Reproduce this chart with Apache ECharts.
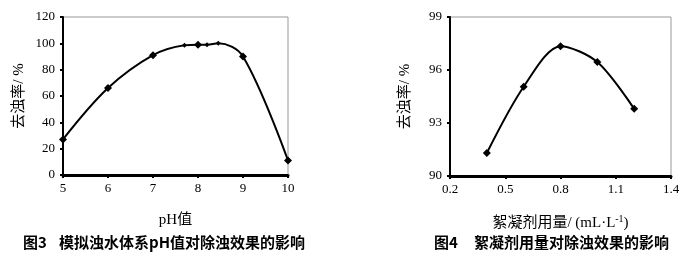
<!DOCTYPE html>
<html><head><meta charset="utf-8">
<script src="https://cdn.jsdelivr.net/npm/echarts@6/dist/echarts.min.js"></script>
<style>html,body{margin:0;padding:0;background:#fff}#c{width:690px;height:264px}</style>
</head><body><div id="c"></div>
<script>
// Figure 3: pH vs removal rate
const phX = [5, 6, 7, 7.7, 8, 8.2, 8.45, 9, 10];
const phY = [27, 66, 91, 98.5, 99, 99, 100, 90, 11];
const phMain = [true, true, true, false, true, false, false, true, true];
const phTicks = [5, 6, 7, 8, 9, 10];
// Figure 4: dosage vs removal rate
const doseX = [0.4, 0.6, 0.8, 1.0, 1.2];
const doseY = [91.3, 95.05, 97.35, 96.45, 93.8];
const doseTicks = [0.2, 0.5, 0.8, 1.1, 1.4];

const serif = '"Liberation Serif","Times New Roman","Noto Sans CJK SC",serif';
const cjk = '"Noto Sans CJK SC",sans-serif';

function xAxisCommon(extra) {
  return Object.assign({
    type: 'value',
    axisLine: {show: true, lineStyle: {color: '#000', width: 3}},
    splitLine: {show: false},
    nameLocation: 'middle',
    nameTextStyle: {color: '#000', fontFamily: serif, fontSize: 15}
  }, extra);
}
function yAxisCommon(extra) {
  return Object.assign({
    type: 'value',
    axisLine: {show: true, lineStyle: {color: '#000', width: 2}},
    axisTick: {show: true, length: 3, lineStyle: {color: '#000', width: 2}},
    axisLabel: {color: '#000', fontFamily: serif, fontSize: 13, margin: 8},
    splitLine: {show: false},
    nameLocation: 'middle',
    nameRotate: 90,
    nameTextStyle: {color: '#000', fontFamily: serif, fontSize: 15}
  }, extra);
}
const capStyle = {fontFamily: cjk, fontSize: 15, fontWeight: 'bold', color: '#1a1a1a'};

const chart = echarts.init(document.getElementById('c'), null, {renderer: 'canvas'});
chart.setOption({
  animation: false,
  backgroundColor: '#fff',
  graphic: [
    {type: 'text', left: 23, top: 235, style: Object.assign({text: '图3'}, capStyle)},
    {type: 'text', left: 59, top: 235, style: Object.assign({text: '模拟浊水体系pH值对除浊效果的影响'}, capStyle)},
    {type: 'text', left: 434, top: 235, style: Object.assign({text: '图4'}, capStyle)},
    {type: 'text', left: 474, top: 235, style: Object.assign({text: '絮凝剂用量对除浊效果的影响'}, capStyle)}
  ],
  grid: [
    {left: 63, top: 17, width: 225, height: 158, show: true, borderColor: '#999', borderWidth: 1},
    {left: 450, top: 17, width: 221, height: 159, show: true, borderColor: '#999', borderWidth: 1}
  ],
  xAxis: [
    xAxisCommon({gridIndex: 0, min: 5, max: 10, name: 'pH值', nameGap: 38,
      axisLabel: {color: '#000', fontFamily: serif, fontSize: 13, margin: 7, customValues: phTicks},
      axisTick: {show: true, length: 3, lineStyle: {color: '#000', width: 2}, customValues: phTicks}}),
    xAxisCommon({gridIndex: 1, min: 0.2, max: 1.4, name: '絮凝剂用量/ (mL·L{sup|-1})', nameGap: 38,
      nameTextStyle: {color: '#000', fontFamily: serif, fontSize: 15,
        rich: {sup: {fontFamily: serif, fontSize: 10, verticalAlign: 'top', padding: [0, 0, 8, 0], color: '#000'}}},
      axisLabel: {color: '#000', fontFamily: serif, fontSize: 13, margin: 7, customValues: doseTicks,
        formatter: v => v.toFixed(1)},
      axisTick: {show: true, length: 3, lineStyle: {color: '#000', width: 2}, customValues: doseTicks}})
  ],
  yAxis: [
    yAxisCommon({gridIndex: 0, min: 0, max: 120, interval: 20, name: '去浊率/ %', nameGap: 36}),
    yAxisCommon({gridIndex: 1, min: 90, max: 99, interval: 3, name: '去浊率/ %', nameGap: 37})
  ],
  series: [
    {type: 'line', xAxisIndex: 0, yAxisIndex: 0, smooth: 0.35,
     data: phX.map((x, i) => ({value: [x, phY[i]], symbolSize: phMain[i] ? 8 : 5})),
     symbol: 'diamond',
     itemStyle: {color: '#000'}, lineStyle: {color: '#000', width: 2}},
    {type: 'line', xAxisIndex: 1, yAxisIndex: 1, smooth: 0.3,
     data: doseX.map((x, i) => [x, doseY[i]]),
     symbol: 'diamond', symbolSize: 8,
     itemStyle: {color: '#000'}, lineStyle: {color: '#000', width: 2}}
  ]
});
</script>
</body></html>
